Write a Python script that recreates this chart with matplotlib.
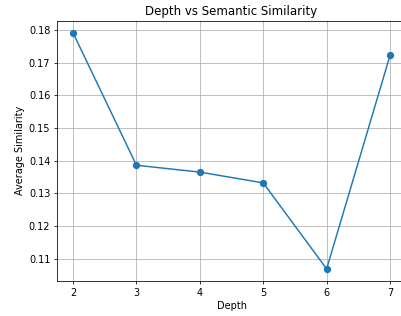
import matplotlib
matplotlib.use("Agg")
import matplotlib.pyplot as plt

depths = [2, 3, 4, 5, 6, 7]
similarity = [0.1791, 0.1386, 0.1365, 0.1332, 0.1069, 0.1722]

s = 0.703
plt.rcParams['font.size'] = 10 * s
fig = plt.figure(figsize=(4.01, 3.16), dpi=100)
ax = fig.add_axes([0.1426, 0.1117, 0.8696, 0.8218])
ax.plot(depths, similarity, marker='o', color='#1f77b4', linewidth=1.5 * s, markersize=6 * s)
ax.set_title('Depth vs Semantic Similarity', fontsize=12 * s, pad=6 * s)
ax.set_xlabel('Depth', labelpad=4 * s)
ax.set_ylabel('Average Similarity', labelpad=4 * s)
ax.grid(True, linewidth=0.8 * s)
for sp in ax.spines.values():
    sp.set_linewidth(0.8 * s)
ax.spines['right'].set_visible(False)
ax.tick_params(width=0.8 * s, length=3.5 * s, pad=3.5 * s)
fig.savefig('out.png', dpi=100)
